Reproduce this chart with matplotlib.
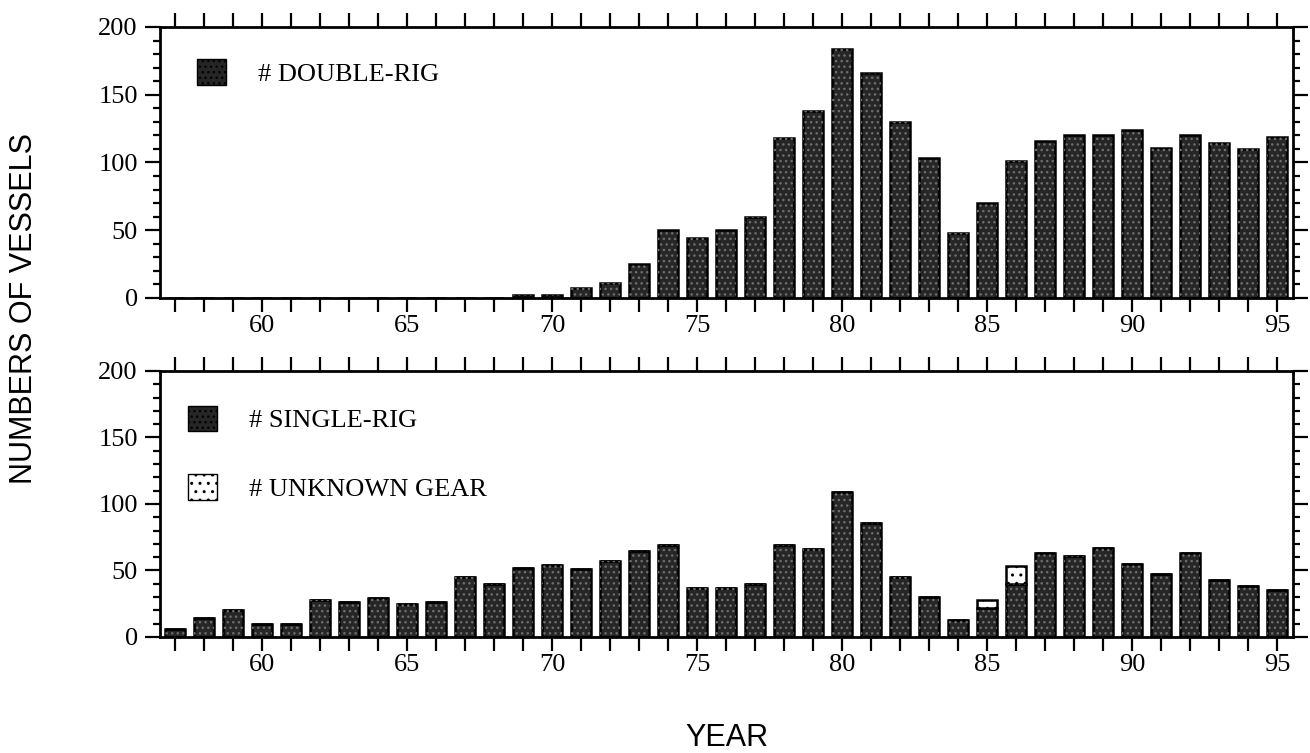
import numpy as np
import matplotlib
matplotlib.use("Agg")
import matplotlib.pyplot as plt
import matplotlib.patches as mpatches
from matplotlib.ticker import MultipleLocator

# Número de barcos por año y tipo de arte
years = np.arange(57, 96)
double_rig = [0, 0, 0, 0, 0, 0, 0, 0, 0, 0, 0, 0,
              2, 2, 7, 11, 25, 50, 44, 50, 60, 118, 138, 184, 166, 130,
              103, 48, 70, 101, 116, 120, 120, 124, 111, 120, 114, 110, 119]
single_rig = [6, 14, 20, 10, 10, 28, 26, 29, 25, 26, 45, 40, 52, 54, 51,
              57, 65, 69, 37, 37, 40, 69, 66, 109, 86, 45, 30, 13, 22, 40,
              63, 61, 67, 55, 47, 63, 43, 38, 35]
unknown_gear = [0] * 28 + [6, 13] + [0] * 9

bar_fc = "#262626"
dot_c = "#6e6e6e"
serif = "Liberation Serif"
sans = "Liberation Sans"
ancho = 0.72

fig = plt.figure(figsize=(13.1, 7.53), dpi=100)
ax1 = fig.add_axes([0.1221, 0.6043, 0.8649, 0.3599])
ax2 = fig.add_axes([0.1221, 0.1541, 0.8649, 0.3533])


def barras_punteadas(ax, x, h, bottom=0):
    # barra oscura con un punteado gris por encima
    ax.bar(x, h, ancho, bottom=bottom, color=bar_fc, edgecolor="black", linewidth=1.8, zorder=2)
    ax.bar(x, h, ancho, bottom=bottom, color="none", edgecolor=dot_c, hatch="...",
           linewidth=0, zorder=3)


def formato(ax):
    ax.set_xlim(56.48, 95.55)
    ax.set_ylim(0, 200)
    ax.xaxis.set_major_locator(MultipleLocator(5))
    ax.xaxis.set_minor_locator(MultipleLocator(1))
    ax.yaxis.set_major_locator(MultipleLocator(50))
    ax.yaxis.set_minor_locator(MultipleLocator(10))
    ax.tick_params(axis="x", which="both", direction="out", top=True, bottom=True,
                   length=10, width=1.6, labelsize=19, pad=2)
    ax.tick_params(axis="y", which="major", direction="out", left=True, right=True,
                   length=11, width=1.6, labelsize=19, pad=5)
    ax.tick_params(axis="y", which="minor", direction="out", left=True, right=True,
                   length=5, width=1.6)
    for lab in ax.get_xticklabels() + ax.get_yticklabels():
        lab.set_fontfamily(serif)
    for s in ax.spines.values():
        s.set_linewidth(2)


barras_punteadas(ax1, years, double_rig)
formato(ax1)

barras_punteadas(ax2, years, single_rig)
ax2.bar(years, unknown_gear, ancho, bottom=single_rig, color="white", edgecolor="black",
        hatch="..", linewidth=1.8, zorder=2)
formato(ax2)

# leyendas
h_double = mpatches.Patch(facecolor=bar_fc, edgecolor="black", hatch="...")
h_single = mpatches.Patch(facecolor=bar_fc, edgecolor="black", hatch="...")
h_unk = mpatches.Patch(facecolor="white", edgecolor="black", hatch="..")
leg_kw = dict(frameon=False, loc="upper left", prop={"family": serif, "size": 19},
              handlelength=1.1, handleheight=1.1, handletextpad=1.2, borderpad=0,
              borderaxespad=0)
ax1.legend([h_double], ["# DOUBLE-RIG"], bbox_to_anchor=(0.033, 0.88), **leg_kw)
ax2.legend([h_single, h_unk], ["# SINGLE-RIG", "# UNKNOWN GEAR"],
           bbox_to_anchor=(0.025, 0.87), labelspacing=1.6, **leg_kw)

fig.text(0.018, 0.59, "NUMBERS OF VESSELS", rotation=90, ha="center", va="center",
         family=sans, fontsize=22)
fig.text(0.555, 0.02, "YEAR", ha="center", va="center", family=sans, fontsize=22)

fig.savefig("out.png", dpi=100)
